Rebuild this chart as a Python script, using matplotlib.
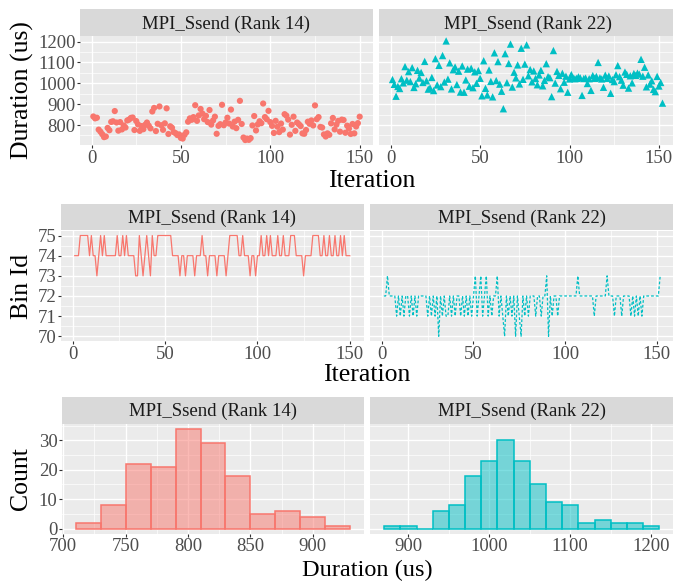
import numpy as np
import matplotlib
matplotlib.use("Agg")
import matplotlib.pyplot as plt
from matplotlib.ticker import MultipleLocator
from matplotlib.colors import to_rgb

plt.rcParams['font.family'] = ['Liberation Serif', 'DejaVu Serif']

# ---- data ----
ranks = ['MPI_Ssend (Rank 14)', 'MPI_Ssend (Rank 22)']
colors = ['#F8766D', '#00BFC4']

# duration (us) per iteration
dur14 = [841, 832, 835, 778, 768, 756, 742, 745, 786, 775,
         815, 818, 867, 812, 773, 814, 779, 798, 788, 822,
         826, 834, 836, 776, 819, 803, 772, 795, 780, 801,
         812, 797, 784, 865, 882, 771, 806, 889, 799, 777,
         808, 880, 757, 794, 787, 766, 761, 752, 755, 738,
         735, 753, 765, 816, 832, 825, 838, 895, 820, 846,
         877, 855, 828, 844, 814, 872, 802, 822, 840, 758,
         796, 804, 897, 799, 812, 835, 807, 874, 793, 816,
         785, 825, 916, 805, 740, 728, 735, 729, 737, 798,
         843, 774, 803, 818, 809, 903, 838, 828, 868, 814,
         796, 762, 820, 792, 766, 807, 778, 852, 845, 826,
         754, 801, 840, 772, 812, 804, 795, 760, 758, 776,
         816, 806, 822, 798, 894, 828, 838, 791, 788, 755,
         745, 760, 753, 808, 834, 779, 802, 820, 768, 826,
         824, 763, 797, 783, 757, 805, 760, 793, 809, 840]

dur22 = [1018, 995, 938, 985, 975, 1022, 1002, 1080, 1015, 1056,
         1008, 1075, 980, 998, 1062, 1025, 1052, 1004, 1105, 1012,
         972, 978, 1028, 965, 1118, 992, 1086, 984, 1133, 1006,
         1203, 1020, 1098, 973, 1065, 1078, 994, 1058, 958, 1083,
         957, 1016, 1068, 986, 1072, 979, 1055, 1000, 1061, 1024,
         940, 1108, 976, 944, 1064, 1009, 935, 1146, 1013, 1104,
         996, 962, 878, 1142, 1003, 1095, 1188, 982, 1053, 1026,
         1088, 997, 1168, 1019, 1092, 1184, 1036, 1066, 1007, 1059,
         1023, 993, 1040, 1062, 988, 1014, 1094, 1032, 1027, 936,
         1157, 1001, 1057, 1038, 974, 1048, 1005, 1034, 957, 1021,
         1042, 1025, 1022, 1024, 1031, 1026, 942, 1023, 1025, 999,
         1022, 966, 1037, 1024, 1033, 1100, 1026, 1021, 981, 1039,
         1024, 1035, 952, 1018, 1008, 1041, 1085, 1032, 1015, 991,
         1054, 1043, 977, 1036, 1002, 1047, 1038, 1049, 1044, 1115,
         1034, 1077, 983, 1040, 996, 1012, 971, 960, 1033, 987,
         1004, 905]

# bin id per iteration
bin14 = [74, 74, 74, 75, 75, 75, 75, 75, 74, 75,
         74, 74, 73, 74, 75, 74, 75, 74, 74, 74,
         74, 74, 74, 75, 74, 74, 75, 74, 75, 74,
         74, 74, 74, 73, 73, 75, 74, 73, 74, 75,
         74, 73, 75, 74, 74, 75, 75, 75, 75, 75,
         75, 75, 75, 74, 74, 74, 74, 73, 74, 74,
         73, 74, 74, 74, 74, 73, 74, 74, 74, 75,
         74, 74, 73, 74, 74, 74, 74, 73, 74, 74,
         74, 74, 73, 74, 75, 75, 75, 75, 75, 74,
         74, 75, 74, 74, 74, 73, 74, 74, 73, 74,
         74, 75, 74, 74, 75, 74, 75, 74, 74, 74,
         75, 74, 74, 75, 74, 74, 74, 75, 75, 75,
         74, 74, 74, 74, 73, 74, 74, 74, 74, 75,
         75, 75, 75, 74, 74, 75, 74, 74, 75, 74,
         74, 75, 74, 74, 75, 74, 75, 74, 74, 74]

bin22 = [72, 72, 73, 72, 72, 72, 72, 71, 72, 71,
         72, 71, 72, 72, 71, 72, 71, 72, 71, 72,
         72, 72, 72, 72, 71, 72, 71, 72, 71, 72,
         70, 72, 71, 72, 71, 71, 72, 71, 72, 71,
         72, 72, 71, 72, 71, 72, 71, 72, 71, 72,
         73, 71, 72, 73, 71, 72, 73, 71, 72, 71,
         72, 72, 73, 71, 72, 71, 70, 72, 71, 72,
         71, 72, 70, 72, 71, 70, 72, 71, 72, 71,
         72, 72, 72, 71, 72, 72, 71, 72, 72, 73,
         70, 72, 71, 72, 72, 71, 72, 72, 72, 72,
         72, 72, 72, 72, 72, 72, 73, 72, 72, 72,
         72, 72, 72, 72, 72, 71, 72, 72, 72, 72,
         72, 72, 73, 72, 72, 72, 71, 72, 72, 72,
         71, 72, 72, 72, 72, 71, 72, 71, 72, 71,
         72, 71, 72, 72, 72, 72, 72, 72, 72, 72,
         72, 73]

hist_start = [710, 870]
hist_stop = [930, 1210]
binwidth = 20

durs = [dur14, dur22]
bins = [bin14, bin22]
iters = [np.arange(1, len(d) + 1) for d in durs]

# ---- layout (pixels) ----
W, H = 673, 582
fig = plt.figure(figsize=(W / 100, H / 100), dpi=100)

BG = '#EBEBEB'
STRIP = '#D9D9D9'
TICK_C = '#4D4D4D'
FS_TICK = 13.5
FS_TITLE = 18.5


def px_axes(x0, x1, y0, y1):
    return fig.add_axes([x0 / W, 1 - y1 / H, (x1 - x0) / W, (y1 - y0) / H])


def strip(x0, x1, y0, y1, label):
    s = px_axes(x0, x1, y0, y1)
    s.set_facecolor(STRIP)
    s.set_xticks([])
    s.set_yticks([])
    for sp in s.spines.values():
        sp.set_visible(False)
    s.text(0.5, 0.45, label, ha='center', va='center', fontsize=FS_TICK,
           color='#1A1A1A', transform=s.transAxes)


def style(ax, show_y=True):
    ax.set_facecolor(BG)
    for sp in ax.spines.values():
        sp.set_visible(False)
    ax.set_axisbelow(True)
    ax.grid(which='major', color='white', lw=1.0)
    ax.grid(which='minor', color='white', lw=0.5)
    ax.tick_params(which='major', length=2.5, width=0.8, color='#333333',
                   labelsize=FS_TICK, labelcolor=TICK_C, pad=0.8)
    ax.tick_params(which='minor', length=0)
    if not show_y:
        ax.tick_params(axis='y', which='both', left=False, labelleft=False)


def expand(lo, hi, f=0.05):
    r = hi - lo
    return lo - f * r, hi + f * r


rows = [
    dict(y0=36, y1=145, sy0=9, cols=[(80, 373), (379, 676)]),
    dict(y0=230.5, y1=341.3, sy0=204, cols=[(61, 363.5), (370, 674)]),
    dict(y0=423.5, y1=533.5, sy0=397, cols=[(62, 364), (370.4, 673)]),
]

# row 1: duration scatter
ylim1 = expand(min(min(d) for d in durs), max(max(d) for d in durs))
for k in range(2):
    x0, x1 = rows[0]['cols'][k]
    ax = px_axes(x0, x1, rows[0]['y0'], rows[0]['y1'])
    style(ax, show_y=(k == 0))
    ax.scatter(iters[k], durs[k], s=20 if k == 0 else 28,
               marker='o' if k == 0 else '^', color=colors[k],
               edgecolors='none', zorder=3)
    ax.set_xlim(*expand(iters[k][0], iters[k][-1]))
    ax.set_ylim(*ylim1)
    ax.xaxis.set_major_locator(MultipleLocator(50))
    ax.xaxis.set_minor_locator(MultipleLocator(25))
    ax.yaxis.set_major_locator(MultipleLocator(100))
    ax.yaxis.set_minor_locator(MultipleLocator(50))
    strip(x0, x1, rows[0]['sy0'], rows[0]['y0'], ranks[k])

# row 2: bin id lines
ylim2 = expand(min(min(b) for b in bins), max(max(b) for b in bins))
for k in range(2):
    x0, x1 = rows[1]['cols'][k]
    ax = px_axes(x0, x1, rows[1]['y0'], rows[1]['y1'])
    style(ax, show_y=(k == 0))
    ax.plot(iters[k], bins[k], color=colors[k], lw=0.9,
            ls='-' if k == 0 else (0, (2.2, 1.6)), zorder=3)
    ax.set_xlim(*expand(iters[k][0], iters[k][-1]))
    ax.set_ylim(*ylim2)
    ax.xaxis.set_major_locator(MultipleLocator(50))
    ax.xaxis.set_minor_locator(MultipleLocator(25))
    ax.yaxis.set_major_locator(MultipleLocator(1))
    ax.yaxis.set_minor_locator(MultipleLocator(0.5))
    strip(x0, x1, rows[1]['sy0'], rows[1]['y0'], ranks[k])

# row 3: histograms
counts = [np.histogram(durs[k], bins=np.arange(hist_start[k], hist_stop[k] + 1, binwidth))[0]
          for k in range(2)]
ylim3 = expand(0, max(c.max() for c in counts))
xmaj = [50, 100]
for k in range(2):
    x0, x1 = rows[2]['cols'][k]
    ax = px_axes(x0, x1, rows[2]['y0'], rows[2]['y1'])
    style(ax, show_y=(k == 0))
    ax.hist(durs[k], bins=np.arange(hist_start[k], hist_stop[k] + 1, binwidth),
            facecolor=(*to_rgb(colors[k]), 0.5), edgecolor=colors[k],
            linewidth=1.1, zorder=3)
    ax.set_xlim(*expand(hist_start[k], hist_stop[k]))
    ax.set_ylim(*ylim3)
    ax.xaxis.set_major_locator(MultipleLocator(xmaj[k]))
    ax.xaxis.set_minor_locator(MultipleLocator(xmaj[k] / 2))
    ax.yaxis.set_major_locator(MultipleLocator(10))
    ax.yaxis.set_minor_locator(MultipleLocator(5))
    strip(x0, x1, rows[2]['sy0'], rows[2]['y0'], ranks[k])

# axis titles
def ftext(x, y, s, **kw):
    fig.text(x / W, 1 - y / H, s, color='black', **kw)

ftext(22, 90.5, 'Duration (us)', rotation=90, ha='center', va='center', fontsize=FS_TITLE)
ftext(372, 181, 'Iteration', ha='center', va='center', fontsize=FS_TITLE)
ftext(21.5, 286, 'Bin Id', rotation=90, ha='center', va='center', fontsize=FS_TITLE)
ftext(367, 375, 'Iteration', ha='center', va='center', fontsize=FS_TITLE)
ftext(21.5, 478.5, 'Count', rotation=90, ha='center', va='center', fontsize=FS_TITLE)
ftext(367, 581.5, 'Duration (us)', ha='center', va='bottom', fontsize=17.5)

fig.savefig('out.png', dpi=100)
